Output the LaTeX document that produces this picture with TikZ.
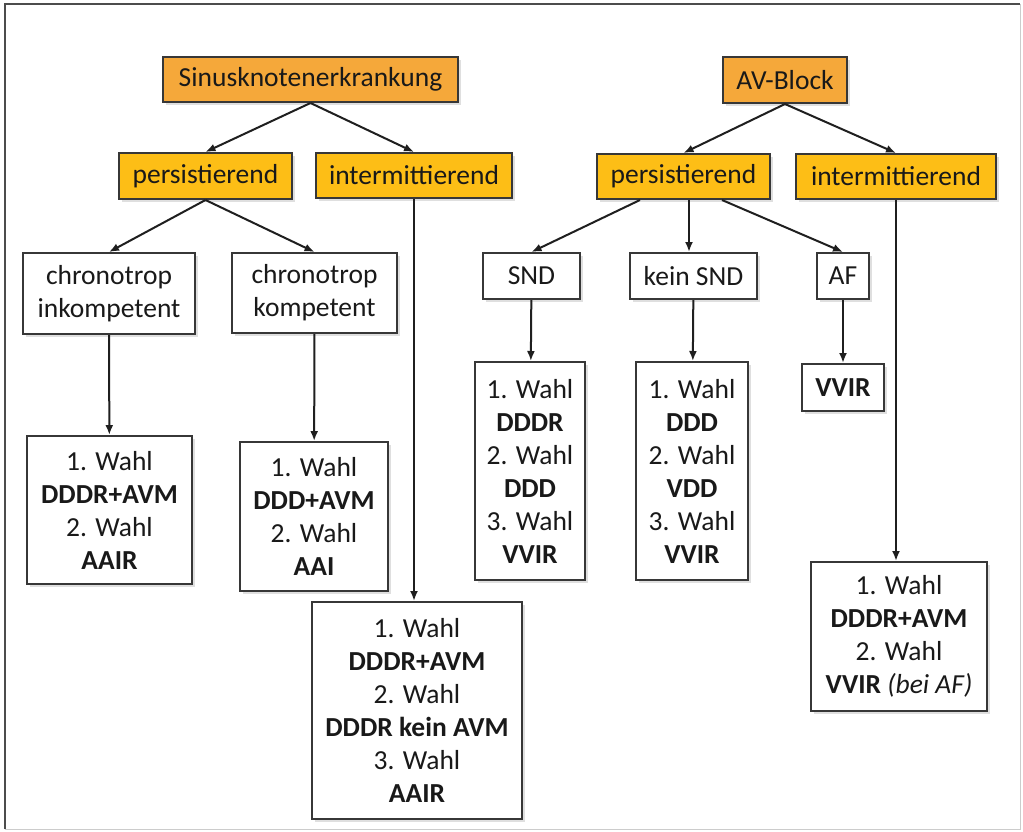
\documentclass[tikz,border=0pt]{standalone}
\usepackage{fontspec}
\setmainfont{Carlito}
\usetikzlibrary{arrows.meta,shadows,calc}

\definecolor{skorange}{RGB}{245,168,58}
\definecolor{pgold}{RGB}{253,190,22}
\definecolor{boxline}{RGB}{55,55,55}
\definecolor{textdark}{RGB}{25,25,25}

\begin{document}
\begin{tikzpicture}[x=1pt,y=-1pt,
    box/.style={draw=boxline, line width=2pt, inner sep=0pt, align=center,
        text=textdark, font=\fontsize{27.5}{33}\selectfont,
        drop shadow={shadow xshift=2.5pt, shadow yshift=-2.5pt, opacity=.25}},
    head/.style={box, fill=skorange},
    sub/.style={box, fill=pgold},
    leaf/.style={box, fill=white},
    arr/.style={-{Latex[length=10pt,width=8pt]}, line width=2pt, draw=black!88}]

\useasboundingbox (0,0) rectangle (1023,831);
\fill[white] (0,0) rectangle (1023,831);
\draw[line width=2pt, draw=black!70] (5,829) -- (5,4) -- (1020,4);
\draw[line width=1pt, draw=black!20] (1020,4) -- (1020,829) -- (5,829);

    \node[head, minimum width=295pt, minimum height=45pt] (sk) at (310.5,79.5) {Sinusknotenerkrankung};
    \node[head, minimum width=124pt, minimum height=46pt] (av) at (785,80) {AV-Block};

    \node[sub, minimum width=173pt, minimum height=46pt] (pL) at (205.5,176) {persistierend};
    \node[sub, minimum width=196pt, minimum height=45pt] (iL) at (414,175.5) {intermittierend};
    \node[sub, minimum width=173pt, minimum height=45pt] (pR) at (683.5,176.5) {persistierend};
    \node[sub, minimum width=200pt, minimum height=45pt] (iR) at (896,176.5) {intermittierend};

    \node[leaf, minimum width=172pt, minimum height=81pt] (ci) at (109,293.5) {chronotrop\\inkompetent};
    \node[leaf, minimum width=165pt, minimum height=80pt] (ck) at (314.5,293) {chronotrop\\kompetent};
    \node[leaf, minimum width=97pt, minimum height=46pt] (snd) at (531.5,276) {SND};
    \node[leaf, minimum width=127pt, minimum height=46pt] (ksnd) at (693.5,276) {kein SND};
    \node[leaf, minimum width=52pt, minimum height=46pt] (af) at (843,276) {AF};

    \node[leaf, minimum width=165pt, minimum height=148pt] (l1) at (109.5,510)
        {1. Wahl\\\textbf{DDDR+AVM}\\2. Wahl\\\textbf{AAIR}};
    \node[leaf, minimum width=148pt, minimum height=149pt] (l2) at (314,516.5)
        {1. Wahl\\\textbf{DDD+AVM}\\2. Wahl\\\textbf{AAI}};
    \node[leaf, minimum width=210pt, minimum height=217pt] (l3) at (417,710.5)
        {1. Wahl\\\textbf{DDDR+AVM}\\2. Wahl\\\textbf{DDDR kein AVM}\\3. Wahl\\\textbf{AAIR}};
    \node[leaf, minimum width=110pt, minimum height=218pt] (r1) at (530,471)
        {1. Wahl\\\textbf{DDDR}\\2. Wahl\\\textbf{DDD}\\3. Wahl\\\textbf{VVIR}};
    \node[leaf, minimum width=112pt, minimum height=218pt] (r2) at (692,471)
        {1. Wahl\\\textbf{DDD}\\2. Wahl\\\textbf{VDD}\\3. Wahl\\\textbf{VVIR}};
    \node[leaf, minimum width=82pt, minimum height=47pt] (r3) at (843,387.5) {\textbf{VVIR}};
    \node[leaf, minimum width=176pt, minimum height=149pt] (r4) at (899,636.5)
        {1. Wahl\\\textbf{DDDR+AVM}\\2. Wahl\\\textbf{VVIR} \textit{(bei AF)}};

\draw[arr] (sk.south) -- (pL.north);
\draw[arr] (sk.south) -- (iL.north);
\draw[arr] (av.south) -- (pR.north);
\draw[arr] (av.south) -- (iR.north);
\draw[arr] (pL.south) -- (ci.north);
\draw[arr] (pL.south) -- (ck.north);
\draw[arr] ($(pR.south)+(-43.5,0)$) -- (snd.north);
\draw[arr] ($(pR.south)+(5.5,0)$) -- ($(ksnd.north)+(-4.5,0)$);
\draw[arr] ($(pR.south)+(38.5,0)$) -- (af.north);

\draw[arr] (ci) -- (l1);
\draw[arr] (ck) -- (l2);
\draw[arr] (iL) -- (iL |- l3.north);
\draw[arr] (snd) -- (r1);
\draw[arr] (ksnd) -- (r2);
\draw[arr] (af) -- (r3);
\draw[arr] (iR) -- (iR |- r4.north);

\end{tikzpicture}
\end{document}
